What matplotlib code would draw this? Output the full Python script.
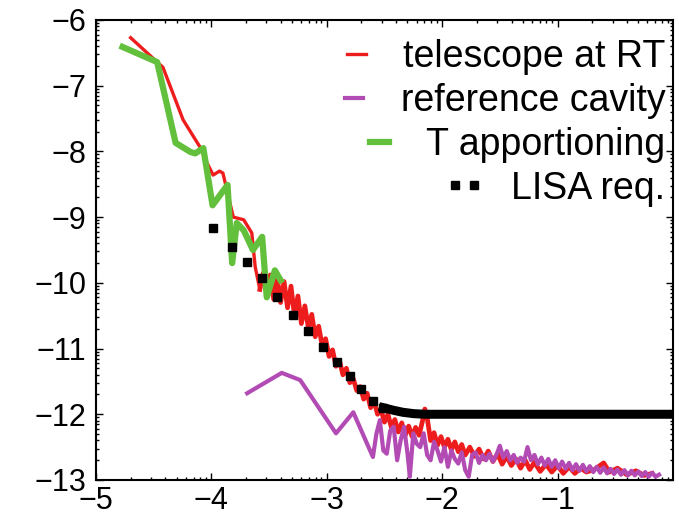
import numpy as np
import matplotlib
matplotlib.use('Agg')
import matplotlib.pyplot as plt
from matplotlib.ticker import FixedLocator, NullFormatter

plt.rcParams['font.family'] = ['Liberation Sans', 'DejaVu Sans']

# telescope at RT (red): smooth low-frequency part
red_x = [-4.70, -4.42, -4.245, -4.10, -4.05, -3.985, -3.93, -3.90, -3.81, -3.72, -3.65, -3.62,
         -3.58]
red_y = [-6.27, -6.72, -7.52, -7.93, -8.13, -8.36, -8.30, -8.33, -9.00, -9.04, -9.24, -9.76,
         -10.10]
# telescope at RT (red): noisy high-frequency part
redn_x = [-3.58, -3.55, -3.52, -3.49, -3.46, -3.43, -3.40, -3.37, -3.34, -3.31, -3.28, -3.25,
          -3.22, -3.19, -3.16, -3.13, -3.10, -3.07, -3.04, -3.01, -2.98, -2.95, -2.92, -2.89,
          -2.86, -2.83, -2.80, -2.77, -2.74, -2.71, -2.68, -2.65, -2.62, -2.59, -2.56, -2.53,
          -2.50, -2.47, -2.44, -2.41, -2.38, -2.35, -2.32, -2.29, -2.26, -2.23, -2.20, -2.17,
          -2.15, -2.13, -2.10, -2.07, -2.04, -2.01, -1.98, -1.95, -1.92, -1.89, -1.86, -1.83,
          -1.80, -1.76, -1.72, -1.68, -1.64, -1.60, -1.56, -1.52, -1.48, -1.44, -1.40, -1.36,
          -1.32, -1.28, -1.24, -1.20, -1.15, -1.10, -1.05, -1.00, -0.95, -0.90, -0.85, -0.80,
          -0.75, -0.68, -0.60, -0.55, -0.48, -0.40, -0.32, -0.25, -0.18]
redn_y = [-10.10, -9.85, -10.18, -9.88, -10.25, -9.92, -10.30, -9.98, -10.38, -10.05, -10.50, -10.20,
          -10.62, -10.35, -10.68, -10.48, -10.82, -10.66, -10.95, -10.85, -11.12, -11.02, -11.27, -11.18,
          -11.40, -11.30, -11.52, -11.46, -11.64, -11.58, -11.77, -11.68, -11.90, -11.80, -12.00, -11.93,
          -12.12, -12.00, -12.20, -12.08, -12.27, -12.13, -12.32, -12.18, -12.34, -12.20, -12.32, -12.10,
          -11.92, -12.05, -12.40, -12.28, -12.47, -12.34, -12.50, -12.38, -12.54, -12.42, -12.57, -12.46,
          -12.62, -12.50, -12.64, -12.53, -12.68, -12.56, -12.72, -12.60, -12.76, -12.64, -12.78, -12.68,
          -12.82, -12.70, -12.84, -12.73, -12.87, -12.76, -12.88, -12.78, -12.90, -12.80, -12.90, -12.82,
          -12.88, -12.84, -12.74, -12.88, -12.82, -12.92, -12.86, -12.93, -12.90]

# reference cavity (purple)
ref_x = [-3.69, -3.39, -3.23, -2.92, -2.77,
         -2.60, -2.57, -2.54, -2.51, -2.48, -2.45, -2.42, -2.39, -2.36, -2.33, -2.30, -2.28,
         -2.25, -2.22, -2.19, -2.16, -2.13, -2.10, -2.07, -2.04, -2.01, -1.98, -1.95, -1.92,
         -1.89, -1.86, -1.83, -1.80, -1.77, -1.74, -1.71, -1.68, -1.65, -1.62, -1.59, -1.56,
         -1.53, -1.50, -1.47, -1.44, -1.41, -1.38, -1.35, -1.32, -1.29, -1.26, -1.23, -1.20,
         -1.17, -1.14, -1.11, -1.08, -1.05, -1.02, -0.99, -0.96, -0.93, -0.90, -0.87, -0.84,
         -0.81, -0.78, -0.75, -0.72, -0.69, -0.66, -0.63, -0.60, -0.57, -0.54, -0.51, -0.48,
         -0.45, -0.42, -0.39, -0.36, -0.33, -0.30, -0.27, -0.24, -0.21, -0.18, -0.15, -0.12]
ref_y = [-11.68, -11.37, -11.48, -12.29, -11.97,
         -12.65, -12.30, -12.09, -12.55, -12.60, -12.25, -12.19, -12.70, -12.40, -12.19, -12.60, -12.95,
         -12.29, -12.45, -12.50, -12.29, -12.62, -12.70, -12.42, -12.55, -12.72, -12.50, -12.80, -12.55,
         -12.68, -12.75, -12.58, -12.85, -12.95, -12.62, -12.58, -12.74, -12.62, -12.70, -12.60, -12.72,
         -12.62, -12.48, -12.66, -12.56, -12.70, -12.62, -12.74, -12.66, -12.72, -12.50, -12.70, -12.62,
         -12.76, -12.66, -12.78, -12.68, -12.80, -12.70, -12.82, -12.72, -12.83, -12.74, -12.85, -12.76,
         -12.86, -12.77, -12.87, -12.79, -12.88, -12.80, -12.89, -12.81, -12.90, -12.83, -12.91, -12.84,
         -12.92, -12.85, -12.93, -12.86, -12.93, -12.87, -12.94, -12.88, -12.95, -12.89, -12.95, -12.92]

# T apportioning (green)
tap_x = [-4.77, -4.47, -4.31, -4.18, -4.14, -4.07, -3.99, -3.86, -3.82, -3.78, -3.72, -3.64,
         -3.56, -3.52, -3.45, -3.40]
tap_y = [-6.41, -6.64, -7.87, -8.01, -8.03, -7.95, -8.82, -8.51, -9.70, -9.09, -9.20, -9.50,
         -9.30, -10.22, -9.81, -9.96]

# LISA requirement: sparse points on the slope, dense (solid) on the floor
lisa_x = [-3.985, -3.82, -3.69, -3.56, -3.43, -3.29, -3.16, -3.03, -2.91, -2.80, -2.70, -2.60, -2.51]
lisa_y = [-9.17, -9.46, -9.68, -9.93, -10.22, -10.49, -10.73, -10.97, -11.20, -11.42, -11.62, -11.80, -11.90]
floor_x = [-2.51, -2.42, -2.34, -2.25, -2.15, -2.0, -1.0, 0.0]
floor_y = [-11.90, -11.94, -11.97, -11.99, -12.0, -12.0, -12.0, -12.0]

labels = ['telescope at RT', 'reference cavity', 'T apportioning', 'LISA req.']

fig = plt.figure(figsize=(6.79, 5.22), dpi=100)
ax = fig.add_axes([0.1414, 0.0805, 0.8496, 0.8812])

ax.plot(red_x, red_y, color='#ee1d1d', lw=2.4, label=labels[0], zorder=2)
ax.plot(redn_x, redn_y, color='#ee1d1d', lw=3.4, zorder=2)
ax.plot(ref_x, ref_y, color='#b24cb4', lw=3.0, label=labels[1], zorder=3)
ax.plot(tap_x, tap_y, color='#63c03c', lw=4.5, label=labels[2], zorder=4)
ax.plot(lisa_x, lisa_y, ls='none', marker='s', ms=5.5, color='black', label=labels[3], zorder=5)
ax.plot(floor_x, floor_y, color='black', lw=6.5, zorder=5)

ax.set_xlim(-5, 0)
ax.set_ylim(-13, -6)
ax.set_xticks([-5, -4, -3, -2, -1])
ax.set_yticks(range(-13, -5))
ax.set_xticklabels(['\u22125', '\u22124', '\u22123', '\u22122', '\u22121'])
ax.set_yticklabels(['\u2212%d' % abs(v) for v in range(-13, -5)])

# log-style minor ticks inside every decade
offs = np.log10(np.arange(2, 10))
ax.xaxis.set_minor_locator(FixedLocator([d + o for d in range(-5, 0) for o in offs]))
ax.yaxis.set_minor_locator(FixedLocator([d + o for d in range(-13, -6) for o in offs]))
ax.xaxis.set_minor_formatter(NullFormatter())
ax.yaxis.set_minor_formatter(NullFormatter())
ax.tick_params(which='both', direction='in', top=True, right=True, width=1.0)
ax.tick_params(which='major', length=5, labelsize=22)
ax.tick_params(axis='x', which='major', pad=4)
ax.tick_params(axis='y', which='major', pad=7)
ax.tick_params(which='minor', length=2.5)
for s in ax.spines.values():
    s.set_linewidth(1.5)

leg = ax.legend(loc='upper right', bbox_to_anchor=(1.0, 0.975), frameon=False, fontsize=27,
                handlelength=1.1, handletextpad=0.7, labelspacing=0.21,
                borderaxespad=0.1, borderpad=0.1, numpoints=2)
# right-align the rows so each handle sits just before its label
for col in leg._legend_handle_box.get_children():
    col.align = 'right'

fig.savefig('out.png', dpi=100)
